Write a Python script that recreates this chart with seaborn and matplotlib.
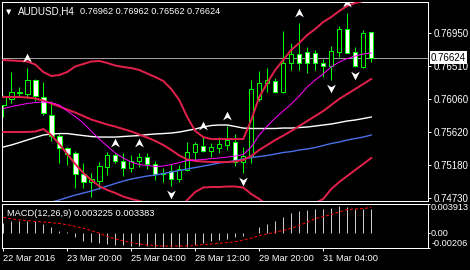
import numpy as np
import pandas as pd
import matplotlib
matplotlib.use("Agg")
import matplotlib.pyplot as plt
import seaborn as sns
from matplotlib.path import Path
from matplotlib.transforms import offset_copy, blended_transform_factory

plt.rcParams['font.family'] = ['Liberation Sans', 'DejaVu Sans']

# ---------------- data ----------------
symbol = "AUDUSD,H4"
header_values = ["0.76962", "0.76962", "0.76562", "0.76624"]

opens = [0.75986, 0.76071, 0.76154, 0.76130, 0.76322, 0.76097, 0.75855, 0.75573, 0.75403, 0.75336,
         0.75058, 0.74946, 0.74970, 0.75156, 0.75307, 0.75239, 0.75135, 0.75237, 0.75282, 0.75188,
         0.75064, 0.75098, 0.74990, 0.75112, 0.75358, 0.75441, 0.75371, 0.75414, 0.75448, 0.75492,
         0.75223, 0.75290, 0.76067, 0.76278, 0.76305, 0.76157, 0.76557, 0.76669, 0.76695, 0.76689,
         0.76550, 0.76510, 0.76703, 0.77004, 0.76703, 0.76497, 0.76962]
highs = [0.76120, 0.76426, 0.76232, 0.76479, 0.76329, 0.76291, 0.76040, 0.75605, 0.75425, 0.75367,
         0.75206, 0.75067, 0.75219, 0.75354, 0.75344, 0.75336, 0.75313, 0.75340, 0.75336, 0.75239,
         0.75135, 0.75192, 0.75179, 0.75489, 0.75489, 0.75565, 0.75475, 0.75551, 0.75697, 0.75596,
         0.75421, 0.76322, 0.76443, 0.76479, 0.76345, 0.76981, 0.76813, 0.77093, 0.76770, 0.76726,
         0.76608, 0.76783, 0.77048, 0.77227, 0.76770, 0.76995, 0.76962]
lows = [0.75824, 0.76009, 0.76089, 0.76076, 0.76040, 0.75847, 0.75506, 0.75210, 0.75179, 0.74873,
        0.74876, 0.74752, 0.74856, 0.75044, 0.75206, 0.75036, 0.75089, 0.75152, 0.75125, 0.74977,
        0.74954, 0.74903, 0.74950, 0.75092, 0.75233, 0.75358, 0.75293, 0.75340, 0.75381, 0.75172,
        0.75071, 0.75206, 0.76046, 0.76167, 0.76143, 0.76143, 0.76454, 0.76460, 0.76412, 0.76457,
        0.76366, 0.76322, 0.76635, 0.76681, 0.76497, 0.76483, 0.76562]
closes = [0.76093, 0.76157, 0.76161, 0.76318, 0.76107, 0.75874, 0.75569, 0.75403, 0.75327, 0.75054,
          0.74946, 0.74986, 0.75165, 0.75313, 0.75235, 0.75135, 0.75239, 0.75282, 0.75188, 0.75064,
          0.75071, 0.74990, 0.75121, 0.75350, 0.75457, 0.75371, 0.75417, 0.75455, 0.75515, 0.75223,
          0.75300, 0.76201, 0.76278, 0.76322, 0.76157, 0.76557, 0.76669, 0.76550, 0.76550, 0.76550,
          0.76505, 0.76712, 0.77004, 0.76689, 0.76510, 0.76950, 0.76624]

bb_upper = [0.76591, 0.76584, 0.76578, 0.76571, 0.76530, 0.76430, 0.76376, 0.76389, 0.76430, 0.76504,
            0.76537, 0.76571, 0.76578, 0.76551, 0.76517, 0.76497, 0.76483, 0.76457, 0.76409, 0.76362,
            0.76309, 0.76201, 0.76053, 0.75824, 0.75636, 0.75555, 0.75528, 0.75528, 0.75528, 0.75528,
            0.75528, 0.75784, 0.76093, 0.76282, 0.76457, 0.76591, 0.76726, 0.76820, 0.76927, 0.77008,
            0.77102, 0.77169, 0.77250, 0.77317, 0.77358, 0.77385, 0.77411]
bb_middle = [0.76093, 0.76093, 0.76093, 0.76087, 0.76073, 0.76046, 0.76006, 0.75966, 0.75925, 0.75885,
             0.75838, 0.75791, 0.75757, 0.75723, 0.75696, 0.75663, 0.75631, 0.75588, 0.75549, 0.75502,
             0.75448, 0.75381, 0.75307, 0.75255, 0.75233, 0.75226, 0.75219, 0.75219, 0.75219, 0.75226,
             0.75246, 0.75300, 0.75381, 0.75448, 0.75515, 0.75574, 0.75636, 0.75703, 0.75771, 0.75838,
             0.75905, 0.75986, 0.76067, 0.76134, 0.76201, 0.76268, 0.76336]
bb_lower = [0.75623, 0.75623, 0.75623, 0.75623, 0.75629, 0.75663, 0.75582, 0.75461, 0.75327, 0.75192,
            0.75071, 0.74977, 0.74896, 0.74843, 0.74802, 0.74755, 0.74722, 0.74695, 0.74668, 0.74627,
            0.74587, 0.74574, 0.74600, 0.74708, 0.74816, 0.74876, 0.74883, 0.74883, 0.74890, 0.74890,
            0.74876, 0.74789, 0.74722, 0.74641, 0.74587, 0.74560, 0.74560, 0.74587, 0.74627, 0.74668,
            0.74722, 0.74856, 0.74950, 0.75031, 0.75112, 0.75192, 0.75273]
ma_white = [0.75421, 0.75448, 0.75481, 0.75515, 0.75549, 0.75582, 0.75596, 0.75602, 0.75602, 0.75588,
            0.75575, 0.75562, 0.75555, 0.75555, 0.75555, 0.75562, 0.75569, 0.75575, 0.75588, 0.75596,
            0.75602, 0.75609, 0.75622, 0.75643, 0.75663, 0.75690, 0.75710, 0.75717, 0.75717, 0.75697,
            0.75676, 0.75670, 0.75670, 0.75670, 0.75670, 0.75676, 0.75676, 0.75683, 0.75690, 0.75703,
            0.75717, 0.75730, 0.75750, 0.75771, 0.75784, 0.75804, 0.75824]
ma_blue = [np.nan, np.nan, np.nan, np.nan, np.nan, np.nan, 0.74681, 0.74708, 0.74742, 0.74775,
           0.74802, 0.74829, 0.74863, 0.74896, 0.74930, 0.74963, 0.74990, 0.75011, 0.75031, 0.75044,
           0.75064, 0.75085, 0.75105, 0.75125, 0.75145, 0.75165, 0.75185, 0.75206, 0.75219, 0.75239,
           0.75260, 0.75280, 0.75293, 0.75307, 0.75327, 0.75347, 0.75360, 0.75381, 0.75394, 0.75414,
           0.75441, 0.75468, 0.75488, 0.75515, 0.75535, 0.75555, 0.75582]
ma_magenta = [0.75937, 0.75964, 0.75986, 0.76006, 0.76019, 0.76026, 0.76019, 0.75986, 0.75905, 0.75829,
              0.75744, 0.75636, 0.75528, 0.75434, 0.75340, 0.75273, 0.75219, 0.75185, 0.75172, 0.75159,
              0.75165, 0.75185, 0.75212, 0.75239, 0.75246, 0.75253, 0.75266, 0.75273, 0.75286, 0.75300,
              0.75320, 0.75421, 0.75582, 0.75703, 0.75811, 0.75905, 0.75999, 0.76107, 0.76228, 0.76322,
              0.76403, 0.76497, 0.76564, 0.76611, 0.76644, 0.76672, 0.76685]

fractal_up = [3, 14, 17, 25, 28, 37, 43]
fractal_down = [11, 21, 30, 41, 44]

macd_main = [0.00131, 0.00154, 0.00154, 0.00163, 0.00163, 0.00118, 0.00072, 0.00027, 0.00005,
             -0.00063, -0.00109, -0.00131, -0.00140, -0.00154, -0.00163, -0.00172, -0.00176, -0.00176,
             -0.00181, -0.00186, -0.00186, -0.00190, -0.00186, -0.00186, -0.00163, -0.00140, -0.00118,
             -0.00104, -0.00081, -0.00060, -0.00050, -0.00005,
             0.00072, 0.00122, 0.00154, 0.00208, 0.00258, 0.00289, 0.00303, 0.00317, 0.00317, 0.00326,
             0.00357, 0.00348, 0.00317, 0.00321, 0.003225]
macd_signal = [0.00205, 0.00187, 0.00174, 0.00160, 0.00151, 0.00142, 0.00133, 0.00123, 0.00106, 0.00083,
               0.00061, 0.00028,
               -0.00007, -0.00053, -0.00084, -0.00111, -0.00134, -0.00152, -0.00166, -0.00175, -0.00179,
               -0.00179, -0.00179, -0.00179, -0.00170, -0.00161, -0.00152, -0.00142, -0.00134, -0.00121,
               -0.00098, -0.00075, -0.00039, -0.00016,
               0.00007, 0.00028, 0.00061, 0.00096, 0.00142, 0.00187, 0.00218, 0.00242, 0.00278, 0.00309,
               0.00319, 0.00323, 0.003383]
macd_label = "MACD(12,26,9) 0.003225 0.003383"

date_labels = ["22 Mar 2016", "23 Mar 20:00", "25 Mar 04:00", "28 Mar 12:00", "29 Mar 20:00", "31 Mar 04:00"]
date_index = [0, 8, 16, 24, 32, 40]
price_ticks = [0.76950, 0.76510, 0.76060, 0.75620, 0.75180, 0.74730]
macd_ticks = [0.003913, 0.0, -0.00206]
macd_tick_labels = ["0.003913", "0.00", "-0.00206"]

# ---------------- figure ----------------
W, H, DPI = 470, 270, 100
fig = plt.figure(figsize=(W / DPI, H / DPI), dpi=DPI, facecolor='black')
ax = fig.add_axes([2 / W, 69 / H, 426 / W, 199 / H], facecolor='black')
ax2 = fig.add_axes([2 / W, 22 / H, 426 / W, 44.5 / H], facecolor='black')

idx = np.arange(len(closes))
px = 72 / DPI  # one pixel in points

o = np.array(opens); c = np.array(closes); hi = np.array(highs); lo = np.array(lows)
bull = c >= o
GREEN = '#00ff00'

# wicks
ax.vlines(idx, lo, hi, color=GREEN, lw=px, zorder=2)
# bodies
body_h = np.maximum(np.abs(c - o), 0.000005)
ax.bar(idx, body_h, bottom=np.minimum(o, c), width=0.56,
       color=np.where(bull, 'black', 'white'), edgecolor=GREEN, linewidth=px, zorder=3)

# indicator lines
band_col = '#e0204a'
df = pd.DataFrame({'i': idx, 'up': bb_upper, 'mid': bb_middle, 'low': bb_lower,
                   'white': ma_white, 'blue': ma_blue, 'mag': ma_magenta})
for col, color, lw in [('white', 'white', 1.4 * px), ('blue', '#4a6ee8', 1.4 * px),
                       ('up', band_col, 2 * px), ('mid', band_col, 2 * px), ('low', band_col, 2 * px),
                       ('mag', '#ff00ff', 1.0 * px)]:
    d = df[['i', col]].dropna()
    sns.lineplot(data=d, x='i', y=col, ax=ax, color=color, linewidth=lw, legend=False,
                 errorbar=None, zorder=4)

# fractal arrows
up_path = Path([(0, 1), (0.9, -0.8), (0, -0.25), (-0.9, -0.8), (0, 1)],
               [Path.MOVETO, Path.LINETO, Path.LINETO, Path.LINETO, Path.CLOSEPOLY])
down_path = Path([(0, -1), (0.9, 0.8), (0, 0.25), (-0.9, 0.8), (0, -1)],
                 [Path.MOVETO, Path.LINETO, Path.LINETO, Path.LINETO, Path.CLOSEPOLY])
t_up = offset_copy(ax.transData, fig=fig, x=0, y=10, units='dots')
t_dn = offset_copy(ax.transData, fig=fig, x=0, y=-8, units='dots')
ax.plot(np.array(fractal_up), hi[fractal_up], linestyle='none', marker=up_path,
        markersize=7, color='white', markeredgewidth=0, transform=t_up, zorder=5)
ax.plot(np.array(fractal_down), lo[fractal_down], linestyle='none', marker=down_path,
        markersize=7, color='white', markeredgewidth=0, transform=t_dn, zorder=5)

# current price line + label
ax.axhline(closes[-1], color='#a0a0a0', lw=px, zorder=1)
btrans = blended_transform_factory(ax.transAxes, ax.transData)
ax.text(1.0 + 3 / 426, closes[-1], header_values[-1], transform=btrans, ha='left', va='center',
        fontsize=7, color='black', clip_on=False, zorder=10,
        bbox=dict(boxstyle='square,pad=0.12', facecolor='white', edgecolor='none'))

# axes limits
ax.set_xlim(-0.16, 53.1)
ax.set_ylim(0.74695, 0.77371)
ax2.set_xlim(-0.16, 53.1)
ax2.set_ylim(-0.00206, 0.003913)

# MACD
ax2.vlines(idx, 0, macd_main, color='#c8c8c8', lw=px, zorder=2)
sig = pd.DataFrame({'i': idx, 's': macd_signal})
sns.lineplot(data=sig, x='i', y='s', ax=ax2, color='#ff0000', linewidth=px,
             linestyle=(0, (3, 2)), legend=False, errorbar=None, zorder=3)

for a in (ax, ax2):
    for s in a.spines.values():
        s.set_color('white')
        s.set_linewidth(px)
    a.yaxis.tick_right()
    a.set_xlabel('')
    a.set_ylabel('')

ax.tick_params(axis='y', colors='white', labelcolor='white', length=3 * px, width=px,
               labelsize=7, pad=2)
ax2.tick_params(axis='y', colors='white', labelcolor='white', length=2 * px, width=px,
                labelsize=6.6, pad=0.8)

ax.set_xticks([])
ax.set_yticks(price_ticks)
ax.set_yticklabels([f"{v:.5f}" for v in price_ticks])

ax2.set_yticks(macd_ticks)
ax2.set_yticklabels(macd_tick_labels)
labs = ax2.get_yticklabels()
labs[0].set_va('top')
labs[2].set_va('bottom')

ax2.set_xticks(date_index)
ax2.set_xticklabels(date_labels, ha='left')
ax2.tick_params(axis='x', colors='white', labelcolor='white', length=3 * px, width=px,
                labelsize=6.7, pad=2)

# header texts
fig.text(6 / W, 1 - 14 / H, "\u25bc", color='white', fontsize=5, ha='left', va='baseline',
         family=['DejaVu Sans'])
fig.text(18 / W, 1 - 14.3 / H, symbol, color='white', fontsize=7.1, ha='left', va='baseline')
fig.text(80 / W, 1 - 14.3 / H, " ".join(header_values), color='white', fontsize=6.6,
         ha='left', va='baseline')
fig.text(6.7 / W, 1 - 215.7 / H, macd_label, color='white', fontsize=6.7, ha='left',
         va='baseline')

fig.savefig('out.png', dpi=DPI, facecolor='black')
